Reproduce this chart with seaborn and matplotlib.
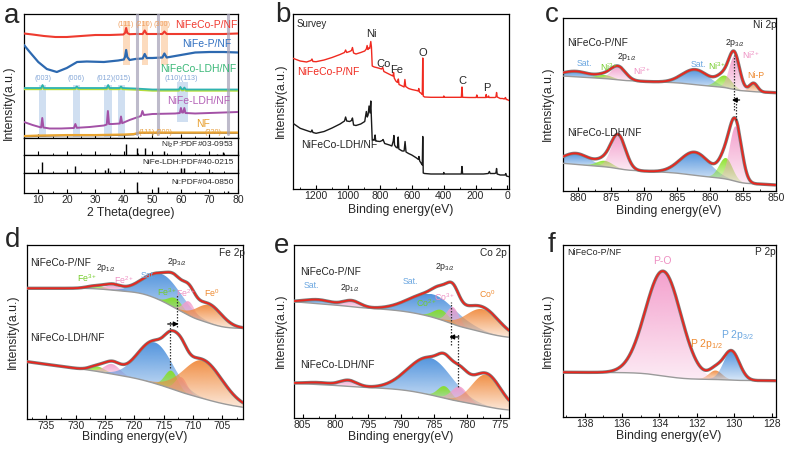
import numpy as np
import matplotlib
matplotlib.use("Agg")
import matplotlib.pyplot as plt
import matplotlib.colors as mcolors
from matplotlib.patches import Polygon
from matplotlib.ticker import MultipleLocator
import seaborn as sns

# ======================= DATA =======================
# (a) XRD patterns: (2theta, intensity)
xrd_red = [(5,104.5),(8,103.5),(12,102),(16,101),(20,101),(25,102),(30,103),(35,103),(39.8,103.5),(40.4,105),(40.8,110),(41.2,105),(42,103.8),(44,104),(46.6,104),(47.3,107.5),(48,104),(50,104),(53.5,104),(54.2,106.5),(55,104),(60,104),(65,104),(70,104),(75,104),(80,104.5)]
xrd_blue = [(5,93),(7,86),(10,76),(13,69),(16.5,66),(20,70),(23.6,76),(27,76.5),(33,76),(38,77.5),(40,78.5),(40.4,81),(40.8,88),(41.2,81),(42,78),(44,79),(46.6,79.5),(47.3,84),(48,80),(50,80),(53.5,80.5),(54.2,84.5),(55,80.5),(58,82),(60,83),(65,85.5),(70,86),(75,86),(80,85.5)]
xrd_green = [(5,50),(11,50),(11.5,53),(12,50),(23,50),(23.5,51.5),(24,50),(34,50),(34.5,53),(35,50),(38.5,50),(39,51.5),(39.5,50),(44,49.5),(50,48.5),(59.3,48.5),(59.8,51),(60.3,48.8),(60.8,48.8),(61.2,50.5),(61.7,48.5),(70,48.5),(80,48.5)]
xrd_purple = [(5,16),(8,13),(11,10.5),(11.4,20),(11.8,10.5),(14,9.5),(18,9.5),(22.5,10),(23,14),(23.5,10.2),(28,11),(33,12.5),(34.0,13.5),(34.4,27),(34.8,14),(36,14),(38.6,14.5),(39,21.5),(39.4,14.8),(42,18),(44,20),(46,22),(46.5,27),(47,23),(50,24),(58,24.5),(59.6,25),(60,30),(60.4,25.5),(60.8,25.5),(61.2,30),(61.6,25),(65,24.5),(70,25),(75,25.5),(80,26)]
xrd_orange = [(5,2),(10,2.5),(20,3),(30,3),(40,3.5),(43.5,4),(45.5,5.5),(50,5.5),(60,5.5),(70,5.5),(80,5.5)]
xrd_names = ["NiFeCo-P/NF", "NiFe-P/NF", "NiFeCo-LDH/NF", "NiFe-LDH/NF", "NF"]
ni_peaks = [44.5, 51.8, 76.4]
p_bands = [(39.6, 42.0), (46.2, 48.6), (52.9, 55.5)]
p_band_labels = ["(111)", "(210)", "(300)"]
ldh_bands = [(10.2, 12.8), (22.3, 24.8), (33.2, 35.8), (37.8, 40.3)]
ldh_band2 = (58.6, 62.6)
ldh_band_labels = ["(003)", "(006)", "(012)(015)", "(110)(113)"]
nf_labels = ["(111)", "(200)", "(220)"]
ni2p_pos = [40.7, 44.6, 47.3, 54.2, 66.2, 72.7, 74.7]
ni2p_h = [0.62, 0.4, 0.4, 0.25, 0.06, 0.08, 0.2]
ldh_pos = [11.4, 22.9, 33.5, 34.4, 38.8, 46.0, 59.9, 61.2, 65.0, 71.0]
ldh_h = [0.62, 0.4, 0.15, 0.28, 0.12, 0.06, 0.25, 0.3, 0.08, 0.08]
ni_pos = [44.5, 51.8, 76.4]
ni_h = [0.55, 0.3, 0.1]
pdf_names = ["Ni$_2$P:PDF#03-0953", "NiFe-LDH:PDF#40-0215", "Ni:PDF#04-0850"]

# (b) XPS survey: (binding energy, intensity)
surv_p = [(1345,130.7),(1300,128),(1260,127),(1232,128.5),(1226,130),(1220,127.5),(1200,127.3),(1150,129),(1100,131.5),(1050,134.5),(1022,136.5),(1015,139),(1008,136.5),(990,137.5),(978,138.5),(972,141.5),(965,136),(950,135),(920,136.5),(895,138),(885,140),(880,143.5),(875,139.5),(870,141),(864,140.5),(857,147.5),(853,142),(848,123),(835,122),(810,121),(790,120),(782,121.5),(775,117.5),(750,115.5),(725,113.5),(718,113),(714,116.5),(710,111),(700,108),(690,106.5),(684,110),(680,104.5),(660,103),(648,102),(643,109.5),(638,102.5),(620,100.5),(600,99.5),(570,98.5),(560,98),(556,100.5),(552,97),(540,95.5),(534,94.5),(531,131),(528,93),(520,92),(480,91.7),(420,91.7),(402,91.7),(399,93),(396,91.7),(350,91.7),(300,91.7),(289,91.7),(285,102),(281,91.7),(240,91.5),(196,91.5),(192,94),(188,91.5),(150,91.5),(136,91.5),(133,94.5),(130,91.5),(122,92),(118,93),(115,91.5),(100,91.5),(78,91.5),(72,92),(68,96.5),(64,92),(45,90.5),(30,90.5),(20,90),(12,91.5),(8,89.5),(3,89.5),(-10,88.5)]
surv_ldh = [(1345,65.7),(1300,60.7),(1260,58.5),(1232,57),(1226,59),(1220,56.5),(1200,55.7),(1150,57.5),(1100,61),(1050,65),(1022,68),(1015,72),(1008,68),(990,67.5),(978,68.5),(972,71),(965,64),(950,63.5),(920,65),(895,67.5),(885,77.5),(879,72),(874,74),(868,83),(862,76),(857,88),(853,70),(848,49),(835,49.5),(830,54),(826,48),(800,47.5),(785,48.5),(780,49.5),(770,45.5),(740,44),(725,43),(716,48),(712,53.5),(708,44),(700,42),(690,41),(685,52),(681,40),(660,38),(648,38),(642,47.5),(636,37),(620,35.5),(600,34),(570,31),(558,29.5),(555,32.5),(550,28),(540,25.5),(534,24),(531,52.5),(528,16),(520,15.5),(480,15),(402,15),(399,16.5),(396,15),(300,15),(289,15),(285,22.5),(281,15),(200,15),(150,15),(120,15.5),(113,17.5),(108,15.5),(100,15.5),(80,15.5),(72,16),(68,20.5),(64,15),(45,14),(30,14),(15,14),(10,15.5),(6,13),(-10,12.3)]
surv_elements = ["Ni", "Co", "Fe", "O", "C", "P"]
surv_elem_pos = [(856, 155), (779, 125), (697, 119), (531, 136), (283, 108), (127, 101)]

# XPS fits: Gaussian components (centre eV, amplitude, sigma) + background
# roles: B = satellite/blue, G = green, P = pink, O = orange
c_roles = ["B", "G", "P", "B", "G", "P", "O"]
c_top_c = [880.3, 876.0, 873.9, 862.2, 857.8, 856.3, 853.4]
c_top_a = [5.5, 3.5, 13, 15, 12, 33, 8.5]
c_top_s = [2.0, 1.2, 1.1, 2.0, 1.1, 0.8, 0.6]
c_top_bg = (98.3, 0.25, 8.6)
c_bot_roles = ["B", "G", "P", "B", "G", "P"]
c_bot_c = [880.3, 876.0, 873.9, 862.3, 857.6, 856.1]
c_bot_a = [11, 6, 33, 23, 21, 55]
c_bot_s = [2.0, 1.2, 1.1, 2.2, 1.0, 0.9]
c_bot_bg = (6.0, 0.35, 10.4)
c_shift = [856.3, 856.1]

d_roles = ["G", "P", "B", "G", "P", "O"]
d_top_c = [726.4, 723.6, 715.1, 713.0, 710.7, 707.2]
d_top_a = [3, 5, 27, 10, 14, 18]
d_top_s = [1.5, 1.3, 3.2, 1.2, 1.0, 2.2]
d_top_bg = (90.7, 0.0, 40.0)
d_bot_c = [726.3, 723.8, 716.5, 713.7, 712.0, 708.3]
d_bot_a = [5, 10, 41, 18, 15, 38]
d_bot_s = [1.3, 1.3, 3.0, 1.1, 1.0, 3.3]
d_bot_bg = (11.7, 0.8, 16.2)
d_shift = [712.8, 714.0]

e_roles = ["B", "P", "B", "G", "P", "O"]
e_top_c = [802.5, 797.5, 785.1, 783.9, 782.1, 777.5]
e_top_a = [4, 6, 23, 10, 17, 23]
e_top_s = [2.0, 1.3, 3.5, 1.2, 0.9, 2.5]
e_top_bg = (80.7, 0.4, 22.5)
e_bot_c = [802.5, 798.0, 785.6, 783.4, 781.1, 777.0]
e_bot_a = [2, 6, 37, 12, 15, 32]
e_bot_s = [2.0, 1.3, 3.3, 1.0, 1.2, 2.2]
e_bot_bg = (8.0, 0.3, 16.9)
e_shift = [782.4, 781.3]

f_roles = ["P", "O", "B"]
f_c = [133.8, 131.0, 130.15]
f_a = [104.8, 9, 29]
f_s = [0.95, 0.35, 0.42]
f_bg = (36.3, 0.1, 7.3)

# ======================= STYLE =======================
sns.set_style("white")
plt.rcParams['font.family'] = ['Liberation Sans', 'DejaVu Sans']
plt.rcParams['mathtext.fontset'] = 'custom'
plt.rcParams['mathtext.rm'] = 'Liberation Sans'
plt.rcParams['mathtext.it'] = 'Liberation Sans'
plt.rcParams['mathtext.bf'] = 'Liberation Sans:bold'
plt.rcParams['axes.edgecolor'] = 'black'
plt.rcParams['axes.linewidth'] = 0.9

ROLE_COL = {"B": "#4a8fdc", "G": "#86e020", "P": "#f39ccb", "O": "#f0883a"}
TXT_COL = {"B": "#6aa6e0", "G": "#74cc2a", "P": "#ee8fc2", "O": "#ee8a30"}
RED = "#e8261e"

W, H = 787, 450
fig = plt.figure(figsize=(W / 100, H / 100), dpi=100)


def add_ax(l, t, r, b):
    return fig.add_axes([l / W, 1 - b / H, (r - l) / W, (b - t) / H])


def ftext(px, py, s, ha='center', va='center', **kw):
    fig.text(px / W, 1 - py / H, s, ha=ha, va=va, **kw)


def style_ax(ax, major, minor, labels=True):
    ax.set_yticks([])
    ax.xaxis.set_major_locator(MultipleLocator(major))
    ax.xaxis.set_minor_locator(MultipleLocator(minor))
    ax.tick_params(axis='x', which='both', direction='in', bottom=True, top=False,
                   labelbottom=labels, labelsize=7.5, pad=1.5, color='black')
    ax.tick_params(axis='x', which='major', length=3, width=0.8)
    ax.tick_params(axis='x', which='minor', length=1.5, width=0.6)
    for sp in ax.spines.values():
        sp.set_visible(True)
        sp.set_color('black')
        sp.set_linewidth(0.9)
    ax.set_xlabel('')
    ax.set_ylabel('')


def line(ax, xs, ys, color, lw=1.3, z=3):
    sns.lineplot(x=np.asarray(xs, float), y=np.asarray(ys, float), ax=ax, color=color,
                 linewidth=lw, estimator=None, sort=False, zorder=z)


def grad_fill(ax, x, lo, hi, color, z=2):
    d = hi - lo
    mask = d > 0.01 * d.max()
    if mask.sum() < 2:
        return
    verts = np.vstack([np.column_stack([x, hi]), np.column_stack([x[::-1], lo[::-1]])])
    poly = Polygon(verts, closed=True, fc='none', ec='none')
    ax.add_patch(poly)
    rgb = mcolors.to_rgb(color)
    n = 200
    img = np.zeros((n, 1, 4))
    img[..., :3] = rgb
    img[:, 0, 3] = np.linspace(0.95, 0.2, n)
    im = ax.imshow(img, extent=[x[mask].min(), x[mask].max(), lo[mask].min(), hi[mask].max()],
                   origin='upper', aspect='auto', zorder=z, interpolation='bilinear')
    im.set_clip_path(poly)


def xps(ax, xlo, xhi, roles, cs, amps, sigs, bg):
    E = np.linspace(xlo, xhi, 900)
    comps = [a * np.exp(-(E - c) ** 2 / (2 * s ** 2)) for c, a, s in zip(cs, amps, sigs)]
    tot = np.sum(comps, axis=0)
    cum = np.cumsum(tot)
    frac = cum / cum[-1]
    b0, slope, step = bg
    base = b0 + slope * (E - E[0]) + step * frac
    for r, comp in zip(roles, comps):
        grad_fill(ax, E, base, base + comp, ROLE_COL[r], z=2)
    env = base + tot
    line(ax, E, base, '#9a9a9a', lw=1.0, z=3)
    line(ax, E, env, '#7d7d7d', lw=2.4, z=3.5)
    line(ax, E, env, RED, lw=1.3, z=4)


def vdot(ax, x, y0, y1):
    ax.plot([x, x], [y0, y1], ls=(0, (1.2, 1.2)), color='#333333', lw=0.9, zorder=6)


def arrow(ax, x_from, x_to, y):
    ax.annotate('', xy=(x_to, y), xytext=(x_from, y),
                arrowprops=dict(arrowstyle='-|>', color='black', lw=0.9, mutation_scale=7),
                zorder=7)


LBL = dict(fontsize=7.3)
SMALL = dict(fontsize=6.3)
XL = dict(fontsize=8.8)

# ======================= (a) XRD =======================
axm = add_ax(24, 14, 238, 138)
s1 = add_ax(24, 138, 238, 155)
s2 = add_ax(24, 155, 238, 173)
s3 = add_ax(24, 173, 238, 193)
for lo, hi in p_bands:
    axm.axvspan(lo, hi, ymin=73 / 124, ymax=117 / 124, color='#fbd0a8', alpha=0.75, lw=0, zorder=0)
for lo, hi in ldh_bands:
    axm.axvspan(lo, hi, ymin=1 / 124, ymax=53 / 124, color='#c5d7ee', alpha=0.8, lw=0, zorder=0)
axm.axvspan(ldh_band2[0], ldh_band2[1], ymin=16 / 124, ymax=56 / 124, color='#c5d7ee', alpha=0.8, lw=0, zorder=0)

xr, yr = zip(*xrd_red)
xb, yb = zip(*xrd_blue)
xg, yg = zip(*xrd_green)
xp, yp = zip(*xrd_purple)
xo, yo = zip(*xrd_orange)
line(axm, xr, yr, '#ee3b2f', lw=1.5)
line(axm, xb, yb, '#2d69b0', lw=1.6)
line(axm, xg, np.asarray(yg) - 1.2, '#b5dc3c', lw=1.4)
line(axm, xg, yg, '#2fb3b0', lw=1.3)
line(axm, xp, yp, '#a351a6', lw=1.4)
line(axm, xo, np.asarray(yo) - 0.8, '#8a7050', lw=0.8)
line(axm, xo, yo, '#eaa530', lw=1.5)
for x in ni_peaks:
    axm.axvline(x, ymin=0.03, ymax=1, color='#a39fb5', lw=2.2, alpha=0.7, zorder=4)
axm.set_xlim(5, 80)
axm.set_ylim(0, 124)
style_ax(axm, 10, 5, labels=False)

for ax, pos, h in [(s1, ni2p_pos, ni2p_h), (s2, ldh_pos, ldh_h), (s3, ni_pos, ni_h)]:
    ax.vlines(pos, 0, h, color='black', lw=1.0)
    ax.set_xlim(5, 80)
    ax.set_ylim(0, 1)
    style_ax(ax, 10, 5, labels=(ax is s3))

xa = lambda deg: 24.1 + (deg - 5) * 2.834
ftext(237, 25, xrd_names[0], ha='right', color='#f03a30', fontsize=7.5)
ftext(231, 44, xrd_names[1], ha='right', color='#2f6fc0', fontsize=7.5)
ftext(236, 69, xrd_names[2], ha='right', color='#3ab878', fontsize=7.5)
ftext(230, 101, xrd_names[3], ha='right', color='#b35fb5', fontsize=7.5)
ftext(203, 124, xrd_names[4], ha='center', color='#e8a030', fontsize=7.5)
for (lo, hi), s in zip(p_bands, p_band_labels):
    ftext(xa((lo + hi) / 2) - (2 if s == "(300)" else 0), 24, s, color='#f0a060', fontsize=5.2)
ftext(xa(11.5), 79, ldh_band_labels[0], color='#86a8d8', fontsize=5.2)
ftext(xa(23.5), 79, ldh_band_labels[1], color='#86a8d8', fontsize=5.2)
ftext(xa(36.7), 79, ldh_band_labels[2], color='#86a8d8', fontsize=5.2)
ftext(xa(60.6), 78, ldh_band_labels[3], color='#86a8d8', fontsize=5.2)
for deg, s in zip([48.3, 54.2, 71.8], nf_labels):
    ftext(xa(deg), 132.5, s, color='#e8a040', fontsize=5.2)
ftext(234, 145, pdf_names[0], ha='right', fontsize=6)
ftext(234, 163, pdf_names[1], ha='right', fontsize=6)
ftext(234, 182, pdf_names[2], ha='right', fontsize=6)
ftext(131, 213, "2 Theta(degree)", **XL)
ftext(9, 103, "Intensity(a.u.)", rotation=90, **XL)

# ======================= (b) Survey =======================
axb = add_ax(293, 14, 509, 189)
sx, sy = zip(*surv_p)
lx, ly = zip(*surv_ldh)
line(axb, lx, ly, '#1a1a1a', lw=1.0)
line(axb, sx, sy, '#f02a20', lw=1.0)
axb.set_xlim(1345, -10)
axb.set_ylim(0, 175)
style_ax(axb, 200, 100)
for s, (x, y) in zip(surv_elements, surv_elem_pos):
    axb.text(x, y, s, ha='center', va='center', fontsize=8)
ftext(297, 24, "Survey", ha='left', fontsize=7)
ftext(297, 72, "NiFeCo-P/NF", ha='left', color='#f02a20', fontsize=7.5)
ftext(301, 145, "NiFeCo-LDH/NF", ha='left', color='#222222', fontsize=7.5)
ftext(401, 210, "Binding energy(eV)", **XL)
ftext(281, 101, "Intensity(a.u.)", rotation=90, **XL)

# ======================= (c) Ni 2p =======================
axc = add_ax(563, 18, 776, 191)
xps(axc, 850, 882.3, c_roles, c_top_c, c_top_a, c_top_s, c_top_bg)
xps(axc, 850, 882.3, c_bot_roles, c_bot_c, c_bot_a, c_bot_s, c_bot_bg)
vdot(axc, c_shift[0], 81, 136)
vdot(axc, c_shift[1], 71, 94)
arrow(axc, 855.1, 857.1, 91)
axc.set_xlim(882.3, 850)
axc.set_ylim(0, 173)
style_ax(axc, 5, 2.5)
ftext(765, 25, "Ni 2p", **LBL)
ftext(567, 43, "NiFeCo-P/NF", ha='left', **LBL)
ftext(627, 57, "2p$_{1/2}$", **SMALL)
ftext(584, 63, "Sat.", color=TXT_COL["B"], **SMALL)
ftext(609, 67, "Ni$^{3+}$", color=TXT_COL["G"], **SMALL)
ftext(642, 71, "Ni$^{2+}$", color=TXT_COL["P"], **SMALL)
ftext(698, 65, "Sat.", color=TXT_COL["B"], **SMALL)
ftext(717, 66, "Ni$^{3+}$", color=TXT_COL["G"], **SMALL)
ftext(735, 43, "2p$_{3/2}$", **SMALL)
ftext(751, 55, "Ni$^{2+}$", color=TXT_COL["P"], **SMALL)
ftext(756, 76, "Ni-P", color=TXT_COL["O"], **SMALL)
ftext(567, 133, "NiFeCo-LDH/NF", ha='left', **LBL)
ftext(669, 211, "Binding energy(eV)", **XL)
ftext(548, 104, "Intensity(a.u.)", rotation=90, **XL)

# ======================= (d) Fe 2p =======================
axd = add_ax(27, 245, 243, 419)
xps(axd, 701.5, 738.3, d_roles, d_top_c, d_top_a, d_top_s, d_top_bg)
xps(axd, 701.5, 738.3, d_roles, d_bot_c, d_bot_a, d_bot_s, d_bot_bg)
vdot(axd, d_shift[0], 92, 124)
vdot(axd, d_shift[1], 51, 99)
arrow(axd, 714.8, 712.0, 95)
axd.set_xlim(738.3, 701.5)
axd.set_ylim(0, 174)
style_ax(axd, 5, 2.5)
ftext(232, 253, "Fe 2p", **LBL)
ftext(30, 263, "NiFeCo-P/NF", ha='left', **LBL)
ftext(106, 268, "2p$_{1/2}$", **SMALL)
ftext(177, 262, "2p$_{3/2}$", **SMALL)
ftext(87, 278, "Fe$^{3+}$", color=TXT_COL["G"], **SMALL)
ftext(124, 280, "Fe$^{2+}$", color=TXT_COL["P"], **SMALL)
ftext(148, 275, "Sat.", color=TXT_COL["B"], **SMALL)
ftext(167, 292, "Fe$^{3+}$", color=TXT_COL["G"], **SMALL)
ftext(186, 293, "Fe$^{2+}$", color=TXT_COL["P"], **SMALL)
ftext(212, 293, "Fe$^{0}$", color=TXT_COL["O"], **SMALL)
ftext(30, 338, "NiFeCo-LDH/NF", ha='left', **LBL)
ftext(135, 437, "Binding energy(eV)", **XL)
ftext(13, 332, "Intensity(a.u.)", rotation=90, **XL)

# ======================= (e) Co 2p =======================
axe = add_ax(294, 245, 509, 418)
xps(axe, 773.6, 806.3, e_roles, e_top_c, e_top_a, e_top_s, e_top_bg)
xps(axe, 773.6, 806.3, e_roles, e_bot_c, e_bot_a, e_bot_s, e_bot_bg)
vdot(axe, e_shift[0], 73, 116)
vdot(axe, e_shift[1], 31, 85)
arrow(axe, 780.8, 783.1, 81)
axe.set_xlim(806.3, 773.6)
axe.set_ylim(0, 173)
style_ax(axe, 5, 2.5)
ftext(493, 253, "Co 2p", **LBL)
ftext(300, 272, "NiFeCo-P/NF", ha='left', **LBL)
ftext(311, 285, "Sat.", color=TXT_COL["B"], **SMALL)
ftext(350, 288, "2p$_{1/2}$", **SMALL)
ftext(410, 282, "Sat.", color=TXT_COL["B"], **SMALL)
ftext(445, 267, "2p$_{3/2}$", **SMALL)
ftext(427, 303, "Co$^{2+}$", color=TXT_COL["G"], **SMALL)
ftext(445, 297, "Co$^{3+}$", color=TXT_COL["P"], **SMALL)
ftext(487, 294, "Co$^{0}$", color=TXT_COL["O"], **SMALL)
ftext(300, 365, "NiFeCo-LDH/NF", ha='left', **LBL)
ftext(401, 437, "Binding energy(eV)", **XL)
ftext(281, 331, "Intensity(a.u.)", rotation=90, **XL)

# ======================= (f) P 2p =======================
axf = add_ax(563, 245, 776, 417)
xps(axf, 127.77, 139.15, f_roles, f_c, f_a, f_s, f_bg)
axf.set_xlim(139.15, 127.77)
axf.set_ylim(0, 172)
style_ax(axf, 2, 1)
ftext(567, 252, "NiFeCo-P/NF", ha='left', fontsize=6.5)
ftext(765, 252, "P 2p", **LBL)
ftext(662, 261, "P-O", color=TXT_COL["P"], fontsize=7.5)
ftext(707, 344, "P 2p$_{1/2}$", color=TXT_COL["O"], fontsize=7.5)
ftext(738, 335, "P 2p$_{3/2}$", color=TXT_COL["B"], fontsize=7.5)
ftext(669, 436, "Binding energy(eV)", **XL)
ftext(548, 331, "Intensity(a.u.)", rotation=90, **XL)

# panel letters
for s, (px, py) in zip("abcdef", [(12, 16), (283, 15), (552, 15), (13, 240), (282, 246), (552, 245)]):
    ftext(px, py, s, fontsize=20)

fig.savefig("out.png", dpi=100)
